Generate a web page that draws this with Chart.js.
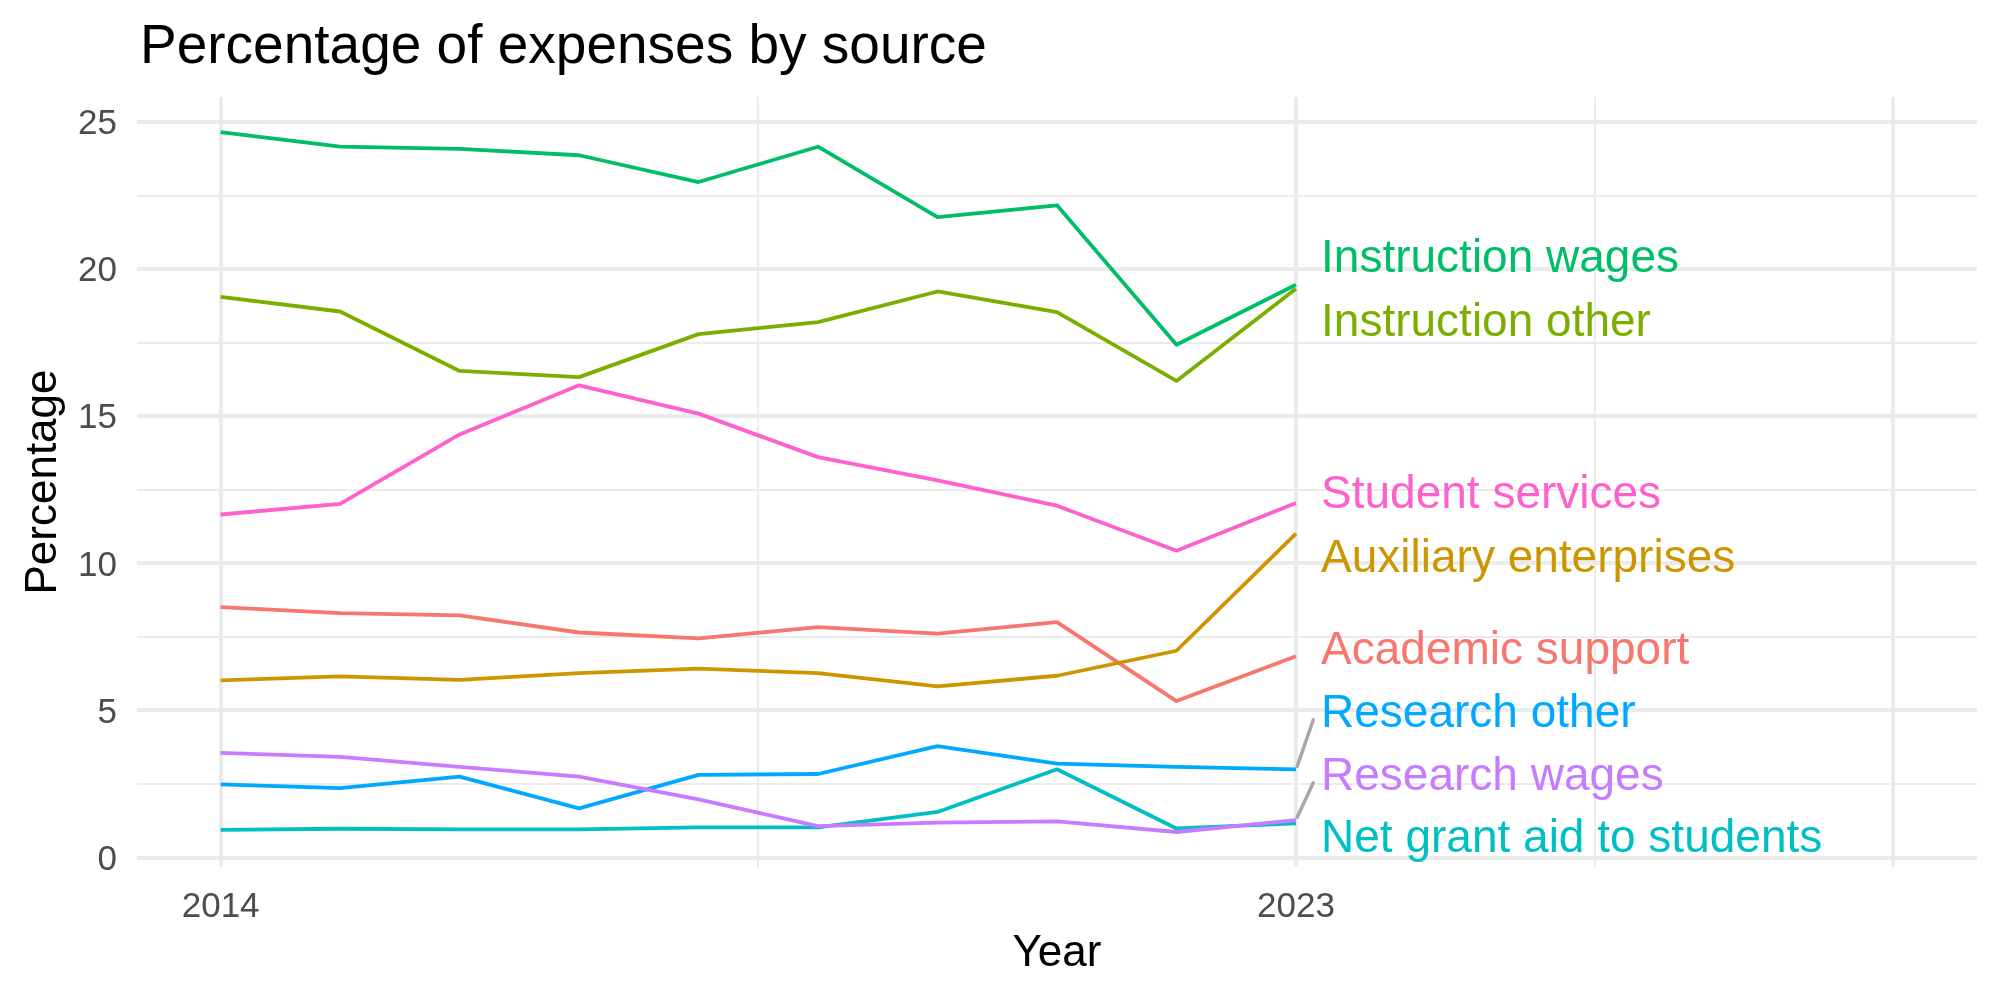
<!DOCTYPE html>
<html>
<head>
<meta charset="utf-8">
<script src="https://cdn.jsdelivr.net/npm/chart.js@4"></script>
<style>
  html, body { margin: 0; padding: 0; background: #fff; }
  canvas { display: block; }
</style>
</head>
<body>
<canvas id="chart" width="2000" height="1000"></canvas>
<script>
// values
var years = [2014, 2015, 2016, 2017, 2018, 2019, 2020, 2021, 2022, 2023];

var seriesNames = ['Academic support', 'Auxiliary enterprises', 'Instruction other', 'Instruction wages',
  'Net grant aid to students', 'Research other', 'Research wages', 'Student services'];

var academicSupport   = [8.51, 8.31, 8.23, 7.65, 7.45, 7.83, 7.61, 8.00, 5.32, 6.84];
var auxiliary         = [6.02, 6.16, 6.04, 6.27, 6.42, 6.27, 5.82, 6.18, 7.03, 11.01];
var instructionOther  = [19.06, 18.56, 16.54, 16.33, 17.79, 18.20, 19.24, 18.54, 16.20, 19.33];
var instructionWages  = [24.66, 24.16, 24.09, 23.87, 22.96, 24.16, 21.77, 22.17, 17.43, 19.47];
var netGrantAid       = [0.94, 0.98, 0.96, 0.96, 1.03, 1.03, 1.55, 3.00, 0.99, 1.16];
var researchOther     = [2.49, 2.36, 2.75, 1.67, 2.81, 2.84, 3.79, 3.19, 3.08, 3.00];
var researchWages     = [3.56, 3.42, 3.08, 2.75, 1.98, 1.07, 1.19, 1.23, 0.87, 1.27];
var studentServices   = [11.66, 12.02, 14.38, 16.05, 15.09, 13.61, 12.82, 11.96, 10.43, 12.05];

var xBreaks = [2014, 2023, 2028];
var xTickLabels = ['2014', '2023', ''];
var yBreaks = [0, 5, 10, 15, 20, 25];
var yTickLabels = ['0', '5', '10', '15', '20', '25'];

// layout (not data): where the repelled end labels sit, in axis units
var labelY = [7.13, 10.29, 18.31, 20.46, 0.75, 5.02, 2.88, 12.44];
var labelX = 2023.21;
var withSegment = [false, false, false, false, false, true, true, false];

var allSeries = [academicSupport, auxiliary, instructionOther, instructionWages,
  netGrantAid, researchOther, researchWages, studentServices];
var colors = ['#F8766D', '#CD9600', '#7CAE00', '#00BE67', '#00BFC4', '#00A9FF', '#C77CFF', '#FF61CC'];

var FONT = "'Liberation Sans', Arial, sans-serif";

function withMinor(breaks) {
  var out = [];
  for (var i = 0; i < breaks.length; i++) {
    out.push(breaks[i]);
    if (i < breaks.length - 1) out.push((breaks[i] + breaks[i + 1]) / 2);
  }
  return out;
}

var datasets = allSeries.map(function (vals, i) {
  return {
    label: seriesNames[i],
    data: years.map(function (y, j) { return { x: y, y: vals[j] }; }),
    borderColor: colors[i],
    backgroundColor: colors[i],
    borderWidth: 3.8,
    borderJoinStyle: 'round',
    pointRadius: 0,
    tension: 0,
    order: allSeries.length - 1 - i
  };
});

var titlePlugin = {
  id: 'plotTitle',
  afterDraw: function (chart) {
    var ctx = chart.ctx;
    ctx.save();
    ctx.fillStyle = '#000';
    ctx.font = '55px ' + FONT;
    ctx.textAlign = 'left';
    ctx.textBaseline = 'alphabetic';
    ctx.fillText('Percentage of expenses by source', 140, 63);
    ctx.restore();
  }
};

var endLabels = {
  id: 'endLabels',
  afterDatasetsDraw: function (chart) {
    var ctx = chart.ctx;
    var xs = chart.scales.x, ys = chart.scales.y;
    ctx.save();
    allSeries.forEach(function (vals, i) {
      if (!withSegment[i]) return;
      var last = vals[vals.length - 1];
      ctx.strokeStyle = '#A8A8A8';
      ctx.lineWidth = 3.5;
      ctx.lineCap = 'round';
      ctx.beginPath();
      ctx.moveTo(xs.getPixelForValue(2023.01), ys.getPixelForValue(last + 0.1));
      ctx.lineTo(xs.getPixelForValue(2023.145), ys.getPixelForValue(labelY[i] - 0.34));
      ctx.stroke();
    });
    ctx.font = '46px ' + FONT;
    ctx.textAlign = 'left';
    ctx.textBaseline = 'middle';
    seriesNames.forEach(function (name, i) {
      ctx.fillStyle = colors[i];
      ctx.fillText(name, xs.getPixelForValue(labelX), ys.getPixelForValue(labelY[i]) + 4);
    });
    ctx.restore();
  }
};

function gridWidth(breaks, major, minor) {
  return function (c) {
    if (!c.tick) return 0;
    return breaks.indexOf(c.tick.value) >= 0 ? major : minor;
  };
}

new Chart(document.getElementById('chart'), {
  type: 'line',
  data: { datasets: datasets },
  options: {
    responsive: false,
    devicePixelRatio: 1,
    animation: false,
    layout: { padding: { top: 97, right: 23, left: 0, bottom: 0 } },
    plugins: { legend: { display: false }, tooltip: { enabled: false }, title: { display: false } },
    scales: {
      x: {
        type: 'linear',
        min: 2013.3,
        max: 2028.7,
        afterBuildTicks: function (scale) {
          scale.ticks = withMinor(xBreaks).map(function (v) { return { value: v }; });
        },
        afterFit: function (scale) { scale.height = 133; },
        border: { display: false },
        grid: { color: '#EBEBEB', lineWidth: gridWidth(xBreaks, 4, 2), drawTicks: false },
        ticks: {
          autoSkip: false,
          maxRotation: 0,
          padding: 19,
          color: '#4D4D4D',
          font: { family: FONT, size: 35 },
          callback: function (v) {
            var k = xBreaks.indexOf(v);
            return k >= 0 ? xTickLabels[k] : '';
          }
        },
        title: { display: true, text: 'Year', color: '#000', font: { family: FONT, size: 44 }, padding: { top: 0, bottom: 20 } }
      },
      y: {
        type: 'linear',
        min: -0.32,
        max: 25.85,
        afterBuildTicks: function (scale) {
          scale.ticks = withMinor(yBreaks).map(function (v) { return { value: v }; });
        },
        afterFit: function (scale) { scale.width = 137; },
        border: { display: false },
        grid: { color: '#EBEBEB', lineWidth: gridWidth(yBreaks, 4, 2), drawTicks: false },
        ticks: {
          autoSkip: false,
          padding: 20,
          labelOffset: 2.5,
          color: '#4D4D4D',
          font: { family: FONT, size: 35 },
          callback: function (v) {
            var k = yBreaks.indexOf(v);
            return k >= 0 ? yTickLabels[k] : '';
          }
        },
        title: { display: true, text: 'Percentage', color: '#000', font: { family: FONT, size: 44 }, padding: { top: 17.5, bottom: 0 } }
      }
    }
  },
  plugins: [titlePlugin, endLabels]
});
</script>
</body>
</html>
